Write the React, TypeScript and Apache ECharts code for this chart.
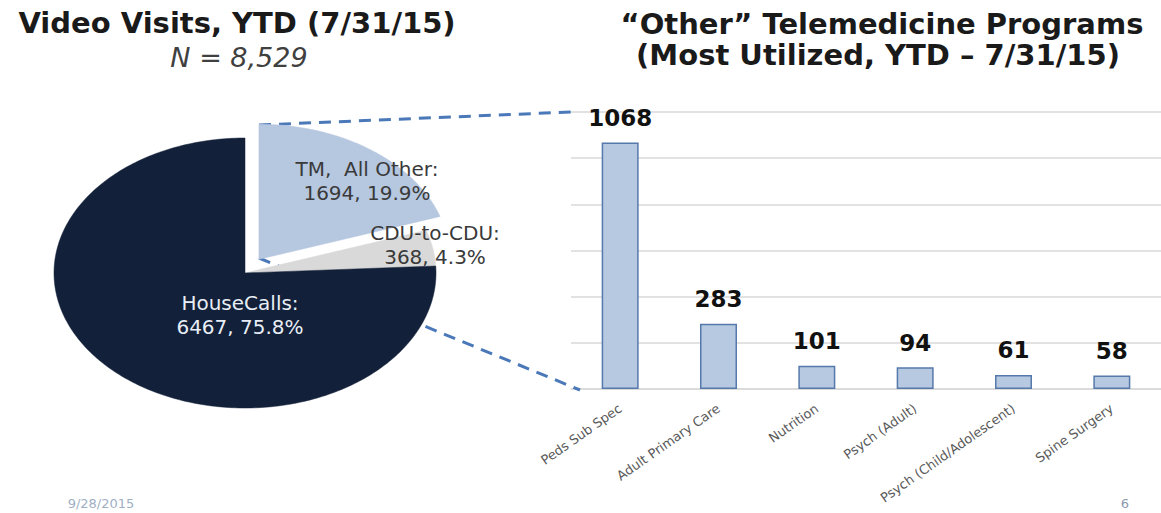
import React, { useEffect, useRef } from "react";
import * as echarts from "echarts";

// ---- Data ----
const pieNames = ["TM,  All Other:", "CDU-to-CDU:", "HouseCalls:"];
const pieValues = [1694, 368, 6467];
const barCategories = [
  "Peds Sub Spec",
  "Adult Primary Care",
  "Nutrition",
  "Psych (Adult)",
  "Psych (Child/Adolescent)",
  "Spine Surgery",
];
const barValues = [1068, 283, 101, 94, 61, 58];
const leftTitle = "Video Visits, YTD (7/31/15)";
const leftSubtitle = "N = 8,529";
const rightTitle1 = "\u201COther\u201D Telemedicine Programs";
const rightTitle2 = "(Most Utilized, YTD \u2013 7/31/15)";
const footerDate = "9/28/2015";
const footerPage = "6";

// ---- Style / layout ----
const PIE_CX = 245;
const PIE_CY = 273;
const PIE_RX = 191;
const PIE_RY = 135;
const pieColors = ["#b6c7e0", "#d9d9d9", "#132039"];
const pieLabelColors = ["#3a3a3a", "#3a3a3a", "#e8eef6"];
const pieExplode = [0.125, 0, 0];
const pieLabelOffsets = [
  [122, -92],
  [190, -28],
  [-5, 42],
];
const FONT = "DejaVu Sans, Verdana, sans-serif";
const DASH_COLOR = "#4a78b8";

export default function App() {
  const ref = useRef<HTMLDivElement>(null);

  useEffect(() => {
    if (!ref.current) return;
    const chart = echarts.init(ref.current, null, { renderer: "svg" });
    const total = pieValues.reduce((a, b) => a + b, 0);

    const renderPie = (params: any, api: any) => {
      const i = params.dataIndex;
      const v = api.value(0);
      let before = 0;
      for (let k = 0; k < i; k++) before += pieValues[k];
      const start = 90 - (before / total) * 360;
      const sweep = (v / total) * 360;
      const end = start - sweep;
      const mid = (((start + end) / 2) * Math.PI) / 180;
      const cx = PIE_CX + pieExplode[i] * PIE_RX * Math.cos(mid);
      const cy = PIE_CY - pieExplode[i] * PIE_RY * Math.sin(mid);
      const pts: number[][] = [[cx, cy]];
      const steps = Math.max(2, Math.ceil(sweep));
      for (let s = 0; s <= steps; s++) {
        const a = ((start - (sweep * s) / steps) * Math.PI) / 180;
        pts.push([cx + PIE_RX * Math.cos(a), cy - PIE_RY * Math.sin(a)]);
      }
      const pct = ((v / total) * 100).toFixed(1);
      return {
        type: "group",
        children: [
          {
            type: "polygon",
            z2: 0,
            shape: { points: pts },
            style: { fill: pieColors[i], stroke: pieColors[i], lineWidth: 0.5 },
          },
          {
            type: "text",
            z2: 10,
            x: PIE_CX + pieLabelOffsets[i][0],
            y: PIE_CY + pieLabelOffsets[i][1],
            style: {
              text: pieNames[i] + "\n" + v + ", " + pct + "%",
              fill: pieLabelColors[i],
              font: "20px " + FONT,
              lineHeight: 24,
              align: "center",
              verticalAlign: "middle",
            },
          },
        ],
      };
    };

    const option: any = {
      animation: false,
      backgroundColor: "#ffffff",
      grid: {
        left: 571,
        right: 0,
        top: 112,
        bottom: 124,
        containLabel: false,
        outerBoundsMode: "none",
      },
      xAxis: {
        type: "category",
        data: barCategories,
        axisLine: { lineStyle: { color: "#d9d9d9", width: 1.5 } },
        axisTick: { show: false },
        axisLabel: {
          interval: 0,
          rotate: 35,
          margin: 18,
          color: "#595959",
          fontSize: 13,
          fontFamily: FONT,
        },
      },
      yAxis: {
        type: "value",
        min: 0,
        max: 1200,
        interval: 200,
        axisLabel: { show: false },
        axisLine: { show: false },
        axisTick: { show: false },
        splitLine: { lineStyle: { color: "#d9d9d9", width: 1.5 } },
      },
      series: [
        {
          type: "bar",
          data: barValues,
          barWidth: 37,
          itemStyle: { color: "#b7c8e1", borderColor: "#5679ab", borderWidth: 1.5 },
          label: {
            show: true,
            position: "top",
            distance: 13,
            color: "#111111",
            fontSize: 23,
            fontWeight: "bold",
            fontFamily: FONT,
          },
          z: 3,
        },
        {
          type: "custom",
          coordinateSystem: "none",
          data: pieValues.map((v) => [v]),
          renderItem: renderPie,
          z: 5,
        },
      ],
      graphic: [
        {
          type: "line",
          z: 1,
          shape: { x1: 259, y1: 125, x2: 571, y2: 112 },
          style: { stroke: DASH_COLOR, lineWidth: 3, lineDash: [12, 8] },
        },
        {
          type: "line",
          z: 1,
          shape: { x1: 259, y1: 258, x2: 580, y2: 390 },
          style: { stroke: DASH_COLOR, lineWidth: 3, lineDash: [12, 8] },
        },
        {
          type: "text",
          x: 237,
          y: 23,
          style: {
            text: leftTitle,
            font: "bold 29px " + FONT,
            fill: "#1a1a1a",
            align: "center",
            verticalAlign: "middle",
          },
        },
        {
          type: "text",
          x: 239,
          y: 57,
          style: {
            text: leftSubtitle,
            font: "italic 27px " + FONT,
            fill: "#404040",
            align: "center",
            verticalAlign: "middle",
          },
        },
        {
          type: "text",
          x: 882,
          y: 24,
          style: {
            text: rightTitle1,
            font: "bold 29px " + FONT,
            fill: "#1a1a1a",
            align: "center",
            verticalAlign: "middle",
          },
        },
        {
          type: "text",
          x: 878,
          y: 55,
          style: {
            text: rightTitle2,
            font: "bold 29px " + FONT,
            fill: "#1a1a1a",
            align: "center",
            verticalAlign: "middle",
          },
        },
        {
          type: "text",
          x: 101,
          y: 503,
          style: {
            text: footerDate,
            font: "13px " + FONT,
            fill: "#9fb0c5",
            align: "center",
            verticalAlign: "middle",
          },
        },
        {
          type: "text",
          x: 1125,
          y: 503,
          style: {
            text: footerPage,
            font: "13px " + FONT,
            fill: "#8a9ab0",
            align: "center",
            verticalAlign: "middle",
          },
        },
      ],
    };

    chart.setOption(option);
    return () => chart.dispose();
  }, []);

  return (
    <div
      ref={ref}
      style={{ position: "absolute", left: 0, top: 0, width: 1161, height: 513, background: "#fff" }}
    />
  );
}
